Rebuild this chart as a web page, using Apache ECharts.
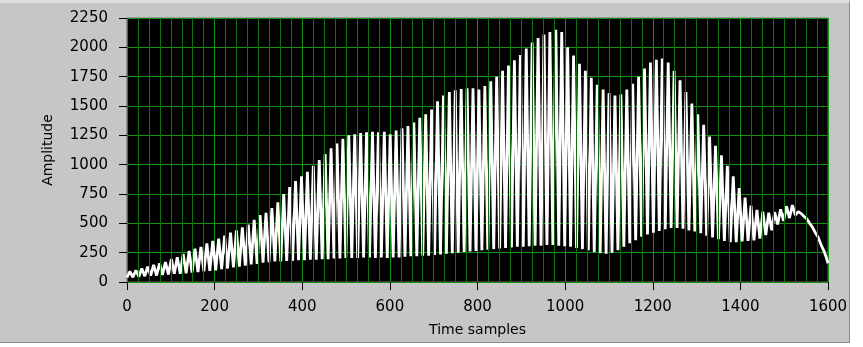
<!DOCTYPE html>
<html>
<head>
<meta charset="utf-8">
<script src="https://cdn.jsdelivr.net/npm/echarts@6/dist/echarts.min.js"></script>
<style>
html,body{margin:0;padding:0;background:#ffffff;}
#frame{position:absolute;left:0;top:0;width:849px;height:339px;background:#c6c6c6;border-top:3px solid #dedede;border-right:1px solid #8a8a8a;border-bottom:1px solid #8a8a8a;}
#chart{position:absolute;left:0;top:0;width:863px;height:347px;}
</style>
</head>
<body>
<div id="frame"></div>
<div id="chart"></div>
<script>
// Samples per oscillation cycle
const cyclePeriod = 13.5;
// Peak value of each cycle (upper envelope)
const peaks = [
 90,100,115,130,145,160,170,195,210,240,
 265,285,300,330,350,370,395,420,440,465,
 490,530,570,590,630,680,750,810,860,900,
 940,990,1040,1090,1140,1180,1220,1250,1260,1270,
 1275,1280,1275,1280,1260,1290,1310,1330,1360,1400,
 1430,1470,1540,1590,1620,1635,1645,1650,1650,1640,
 1670,1710,1750,1800,1845,1890,1935,1990,2040,2080,
 2110,2130,2150,2130,2000,1930,1860,1800,1740,1680,
 1640,1610,1590,1600,1640,1690,1750,1820,1870,1895,
 1905,1870,1800,1720,1620,1520,1430,1340,1240,1160,
 1080,990,900,800,720,650,615,600,590,595,
 620,645,655
];
// Trough value of each cycle (lower envelope)
const troughs = [
 40,40,45,50,55,55,60,65,70,70,
 75,80,85,90,95,100,110,115,125,130,
 140,150,155,165,170,175,175,180,180,185,
 185,190,190,195,195,200,200,205,205,205,
 210,210,205,210,205,210,210,215,220,220,
 225,225,230,235,240,245,250,255,260,265,
 270,275,280,285,290,295,300,300,305,310,
 310,315,315,310,305,300,290,280,270,255,
 245,240,250,270,300,330,355,385,405,420,
 435,450,460,460,455,440,430,415,395,380,
 365,350,340,340,345,350,355,370,400,440,
 490,520,545,570
];
// Final decaying part of the record
const tailSamples = [1532,1538,1545,1551,1558,1564,1571,1577,1584,1590,1596,1600];
const tailValues  = [600,585,560,540,500,470,420,385,320,270,210,160];

const xTicks = [0,200,400,600,800,1000,1200,1400,1600];
const yTicks = [0,250,500,750,1000,1250,1500,1750,2000,2250];
const xMinorTicks = [];
for (let v = xTicks[0]; v <= xTicks[xTicks.length - 1]; v += 25) if (v % 200 !== 0) xMinorTicks.push(v);

const data = [];
for (let i = 0; i < troughs.length; i++) {
  data.push([i * cyclePeriod, troughs[i]]);
  if (i < peaks.length) data.push([i * cyclePeriod + cyclePeriod / 2, peaks[i]]);
}
for (let i = 0; i < tailSamples.length; i++) data.push([tailSamples[i], tailValues[i]]);

const font = 'DejaVu Sans';
const majorGreen = '#129212';
const minorGreen = '#107010';

const chart = echarts.init(document.getElementById('chart'), null, {renderer: 'canvas'});
chart.setOption({
  animation: false,
  backgroundColor: 'transparent',
  grid: {left: 127, right: 35, top: 18, bottom: 65, show: true, backgroundColor: '#000000', borderColor: '#6a6a6a', borderWidth: 1},
  xAxis: {
    type: 'value', min: xTicks[0], max: xTicks[xTicks.length - 1], interval: 200,
    name: 'Time samples', nameLocation: 'middle', nameGap: 38,
    nameTextStyle: {color: '#000', fontFamily: font, fontSize: 14},
    offset: 3,
    axisLine: {show: false},
    axisTick: {show: true, length: 8, lineStyle: {color: '#000', width: 1}},
    axisLabel: {color: '#000', fontFamily: font, fontSize: 15, margin: 15, formatter: v => String(v)},
    splitLine: {show: true, lineStyle: {color: majorGreen, width: 1}}
  },
  yAxis: {
    type: 'value', min: yTicks[0], max: yTicks[yTicks.length - 1], interval: 250,
    name: 'Amplitude', nameLocation: 'middle', nameGap: 69, nameRotate: 90,
    nameTextStyle: {color: '#000', fontFamily: font, fontSize: 14},
    offset: 3,
    axisLine: {show: false},
    axisTick: {show: true, length: 8, lineStyle: {color: '#000', width: 1}},
    axisLabel: {color: '#000', fontFamily: font, fontSize: 15, margin: 16, formatter: v => String(v)},
    splitLine: {show: true, lineStyle: {color: majorGreen, width: 1}}
  },
  series: [{
    type: 'line', data: [], silent: true, z: 1, showSymbol: false,
    markLine: {
      silent: true, symbol: 'none', label: {show: false}, animation: false,
      lineStyle: {color: minorGreen, width: 1, type: 'solid'},
      data: xMinorTicks.map(v => ({xAxis: v}))
    }
  }, {
    type: 'line', data: data, showSymbol: false, silent: true, z: 3,
    lineStyle: {color: '#ffffff', width: 2.8}
  }]
});
</script>
</body>
</html>
